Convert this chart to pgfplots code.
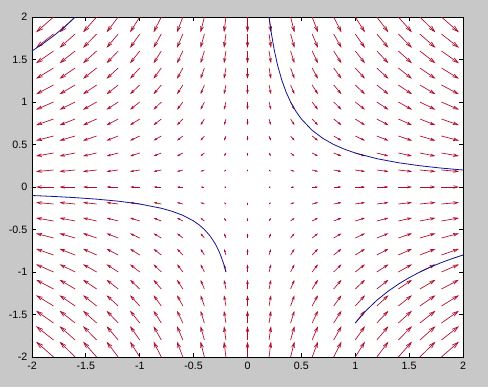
\documentclass[border=0pt]{standalone}
\usepackage{fontspec}
\setmainfont{Liberation Sans}
\usepackage{pgfplots}
\usepackage{pgfplotstable}
\pgfplotsset{compat=1.18}
\usetikzlibrary{arrows.meta}
\definecolor{bggray}{RGB}{200,200,200}
\definecolor{arrred}{RGB}{175,10,40}
\definecolor{curveblue}{RGB}{20,20,140}
\pgfplotstableread[row sep=\\]{
x y u v\\
-2 2 -2 -2\\ -1.8 2 -1.8 -2\\ -1.6 2 -1.6 -2\\ -1.4 2 -1.4 -2\\ -1.2 2 -1.2 -2\\ -1 2 -1 -2\\ -0.8 2 -0.8 -2\\ -0.6 2 -0.6 -2\\ -0.4 2 -0.4 -2\\ -0.2 2 -0.2 -2\\ 0 2 0 -2\\ 0.2 2 0.2 -2\\ 0.4 2 0.4 -2\\ 0.6 2 0.6 -2\\ 0.8 2 0.8 -2\\ 1 2 1 -2\\ 1.2 2 1.2 -2\\ 1.4 2 1.4 -2\\ 1.6 2 1.6 -2\\ 1.8 2 1.8 -2\\ 2 2 2 -2\\
-2 1.8 -2 -1.8\\ -1.8 1.8 -1.8 -1.8\\ -1.6 1.8 -1.6 -1.8\\ -1.4 1.8 -1.4 -1.8\\ -1.2 1.8 -1.2 -1.8\\ -1 1.8 -1 -1.8\\ -0.8 1.8 -0.8 -1.8\\ -0.6 1.8 -0.6 -1.8\\ -0.4 1.8 -0.4 -1.8\\ -0.2 1.8 -0.2 -1.8\\ 0 1.8 0 -1.8\\ 0.2 1.8 0.2 -1.8\\ 0.4 1.8 0.4 -1.8\\ 0.6 1.8 0.6 -1.8\\ 0.8 1.8 0.8 -1.8\\ 1 1.8 1 -1.8\\ 1.2 1.8 1.2 -1.8\\ 1.4 1.8 1.4 -1.8\\ 1.6 1.8 1.6 -1.8\\ 1.8 1.8 1.8 -1.8\\ 2 1.8 2 -1.8\\
-2 1.6 -2 -1.6\\ -1.8 1.6 -1.8 -1.6\\ -1.6 1.6 -1.6 -1.6\\ -1.4 1.6 -1.4 -1.6\\ -1.2 1.6 -1.2 -1.6\\ -1 1.6 -1 -1.6\\ -0.8 1.6 -0.8 -1.6\\ -0.6 1.6 -0.6 -1.6\\ -0.4 1.6 -0.4 -1.6\\ -0.2 1.6 -0.2 -1.6\\ 0 1.6 0 -1.6\\ 0.2 1.6 0.2 -1.6\\ 0.4 1.6 0.4 -1.6\\ 0.6 1.6 0.6 -1.6\\ 0.8 1.6 0.8 -1.6\\ 1 1.6 1 -1.6\\ 1.2 1.6 1.2 -1.6\\ 1.4 1.6 1.4 -1.6\\ 1.6 1.6 1.6 -1.6\\ 1.8 1.6 1.8 -1.6\\ 2 1.6 2 -1.6\\
-2 1.4 -2 -1.4\\ -1.8 1.4 -1.8 -1.4\\ -1.6 1.4 -1.6 -1.4\\ -1.4 1.4 -1.4 -1.4\\ -1.2 1.4 -1.2 -1.4\\ -1 1.4 -1 -1.4\\ -0.8 1.4 -0.8 -1.4\\ -0.6 1.4 -0.6 -1.4\\ -0.4 1.4 -0.4 -1.4\\ -0.2 1.4 -0.2 -1.4\\ 0 1.4 0 -1.4\\ 0.2 1.4 0.2 -1.4\\ 0.4 1.4 0.4 -1.4\\ 0.6 1.4 0.6 -1.4\\ 0.8 1.4 0.8 -1.4\\ 1 1.4 1 -1.4\\ 1.2 1.4 1.2 -1.4\\ 1.4 1.4 1.4 -1.4\\ 1.6 1.4 1.6 -1.4\\ 1.8 1.4 1.8 -1.4\\ 2 1.4 2 -1.4\\
-2 1.2 -2 -1.2\\ -1.8 1.2 -1.8 -1.2\\ -1.6 1.2 -1.6 -1.2\\ -1.4 1.2 -1.4 -1.2\\ -1.2 1.2 -1.2 -1.2\\ -1 1.2 -1 -1.2\\ -0.8 1.2 -0.8 -1.2\\ -0.6 1.2 -0.6 -1.2\\ -0.4 1.2 -0.4 -1.2\\ -0.2 1.2 -0.2 -1.2\\ 0 1.2 0 -1.2\\ 0.2 1.2 0.2 -1.2\\ 0.4 1.2 0.4 -1.2\\ 0.6 1.2 0.6 -1.2\\ 0.8 1.2 0.8 -1.2\\ 1 1.2 1 -1.2\\ 1.2 1.2 1.2 -1.2\\ 1.4 1.2 1.4 -1.2\\ 1.6 1.2 1.6 -1.2\\ 1.8 1.2 1.8 -1.2\\ 2 1.2 2 -1.2\\
-2 1 -2 -1\\ -1.8 1 -1.8 -1\\ -1.6 1 -1.6 -1\\ -1.4 1 -1.4 -1\\ -1.2 1 -1.2 -1\\ -1 1 -1 -1\\ -0.8 1 -0.8 -1\\ -0.6 1 -0.6 -1\\ -0.4 1 -0.4 -1\\ -0.2 1 -0.2 -1\\ 0 1 0 -1\\ 0.2 1 0.2 -1\\ 0.4 1 0.4 -1\\ 0.6 1 0.6 -1\\ 0.8 1 0.8 -1\\ 1 1 1 -1\\ 1.2 1 1.2 -1\\ 1.4 1 1.4 -1\\ 1.6 1 1.6 -1\\ 1.8 1 1.8 -1\\ 2 1 2 -1\\
-2 0.8 -2 -0.8\\ -1.8 0.8 -1.8 -0.8\\ -1.6 0.8 -1.6 -0.8\\ -1.4 0.8 -1.4 -0.8\\ -1.2 0.8 -1.2 -0.8\\ -1 0.8 -1 -0.8\\ -0.8 0.8 -0.8 -0.8\\ -0.6 0.8 -0.6 -0.8\\ -0.4 0.8 -0.4 -0.8\\ -0.2 0.8 -0.2 -0.8\\ 0 0.8 0 -0.8\\ 0.2 0.8 0.2 -0.8\\ 0.4 0.8 0.4 -0.8\\ 0.6 0.8 0.6 -0.8\\ 0.8 0.8 0.8 -0.8\\ 1 0.8 1 -0.8\\ 1.2 0.8 1.2 -0.8\\ 1.4 0.8 1.4 -0.8\\ 1.6 0.8 1.6 -0.8\\ 1.8 0.8 1.8 -0.8\\ 2 0.8 2 -0.8\\
-2 0.6 -2 -0.6\\ -1.8 0.6 -1.8 -0.6\\ -1.6 0.6 -1.6 -0.6\\ -1.4 0.6 -1.4 -0.6\\ -1.2 0.6 -1.2 -0.6\\ -1 0.6 -1 -0.6\\ -0.8 0.6 -0.8 -0.6\\ -0.6 0.6 -0.6 -0.6\\ -0.4 0.6 -0.4 -0.6\\ -0.2 0.6 -0.2 -0.6\\ 0 0.6 0 -0.6\\ 0.2 0.6 0.2 -0.6\\ 0.4 0.6 0.4 -0.6\\ 0.6 0.6 0.6 -0.6\\ 0.8 0.6 0.8 -0.6\\ 1 0.6 1 -0.6\\ 1.2 0.6 1.2 -0.6\\ 1.4 0.6 1.4 -0.6\\ 1.6 0.6 1.6 -0.6\\ 1.8 0.6 1.8 -0.6\\ 2 0.6 2 -0.6\\
-2 0.4 -2 -0.4\\ -1.8 0.4 -1.8 -0.4\\ -1.6 0.4 -1.6 -0.4\\ -1.4 0.4 -1.4 -0.4\\ -1.2 0.4 -1.2 -0.4\\ -1 0.4 -1 -0.4\\ -0.8 0.4 -0.8 -0.4\\ -0.6 0.4 -0.6 -0.4\\ -0.4 0.4 -0.4 -0.4\\ -0.2 0.4 -0.2 -0.4\\ 0 0.4 0 -0.4\\ 0.2 0.4 0.2 -0.4\\ 0.4 0.4 0.4 -0.4\\ 0.6 0.4 0.6 -0.4\\ 0.8 0.4 0.8 -0.4\\ 1 0.4 1 -0.4\\ 1.2 0.4 1.2 -0.4\\ 1.4 0.4 1.4 -0.4\\ 1.6 0.4 1.6 -0.4\\ 1.8 0.4 1.8 -0.4\\ 2 0.4 2 -0.4\\
-2 0.2 -2 -0.2\\ -1.8 0.2 -1.8 -0.2\\ -1.6 0.2 -1.6 -0.2\\ -1.4 0.2 -1.4 -0.2\\ -1.2 0.2 -1.2 -0.2\\ -1 0.2 -1 -0.2\\ -0.8 0.2 -0.8 -0.2\\ -0.6 0.2 -0.6 -0.2\\ -0.4 0.2 -0.4 -0.2\\ -0.2 0.2 -0.2 -0.2\\ 0 0.2 0 -0.2\\ 0.2 0.2 0.2 -0.2\\ 0.4 0.2 0.4 -0.2\\ 0.6 0.2 0.6 -0.2\\ 0.8 0.2 0.8 -0.2\\ 1 0.2 1 -0.2\\ 1.2 0.2 1.2 -0.2\\ 1.4 0.2 1.4 -0.2\\ 1.6 0.2 1.6 -0.2\\ 1.8 0.2 1.8 -0.2\\ 2 0.2 2 -0.2\\
-2 0 -2 0\\ -1.8 0 -1.8 0\\ -1.6 0 -1.6 0\\ -1.4 0 -1.4 0\\ -1.2 0 -1.2 0\\ -1 0 -1 0\\ -0.8 0 -0.8 0\\ -0.6 0 -0.6 0\\ -0.4 0 -0.4 0\\ -0.2 0 -0.2 0\\ 0.2 0 0.2 0\\ 0.4 0 0.4 0\\ 0.6 0 0.6 0\\ 0.8 0 0.8 0\\ 1 0 1 0\\ 1.2 0 1.2 0\\ 1.4 0 1.4 0\\ 1.6 0 1.6 0\\ 1.8 0 1.8 0\\ 2 0 2 0\\
-2 -0.2 -2 0.2\\ -1.8 -0.2 -1.8 0.2\\ -1.6 -0.2 -1.6 0.2\\ -1.4 -0.2 -1.4 0.2\\ -1.2 -0.2 -1.2 0.2\\ -1 -0.2 -1 0.2\\ -0.8 -0.2 -0.8 0.2\\ -0.6 -0.2 -0.6 0.2\\ -0.4 -0.2 -0.4 0.2\\ -0.2 -0.2 -0.2 0.2\\ 0 -0.2 0 0.2\\ 0.2 -0.2 0.2 0.2\\ 0.4 -0.2 0.4 0.2\\ 0.6 -0.2 0.6 0.2\\ 0.8 -0.2 0.8 0.2\\ 1 -0.2 1 0.2\\ 1.2 -0.2 1.2 0.2\\ 1.4 -0.2 1.4 0.2\\ 1.6 -0.2 1.6 0.2\\ 1.8 -0.2 1.8 0.2\\ 2 -0.2 2 0.2\\
-2 -0.4 -2 0.4\\ -1.8 -0.4 -1.8 0.4\\ -1.6 -0.4 -1.6 0.4\\ -1.4 -0.4 -1.4 0.4\\ -1.2 -0.4 -1.2 0.4\\ -1 -0.4 -1 0.4\\ -0.8 -0.4 -0.8 0.4\\ -0.6 -0.4 -0.6 0.4\\ -0.4 -0.4 -0.4 0.4\\ -0.2 -0.4 -0.2 0.4\\ 0 -0.4 0 0.4\\ 0.2 -0.4 0.2 0.4\\ 0.4 -0.4 0.4 0.4\\ 0.6 -0.4 0.6 0.4\\ 0.8 -0.4 0.8 0.4\\ 1 -0.4 1 0.4\\ 1.2 -0.4 1.2 0.4\\ 1.4 -0.4 1.4 0.4\\ 1.6 -0.4 1.6 0.4\\ 1.8 -0.4 1.8 0.4\\ 2 -0.4 2 0.4\\
-2 -0.6 -2 0.6\\ -1.8 -0.6 -1.8 0.6\\ -1.6 -0.6 -1.6 0.6\\ -1.4 -0.6 -1.4 0.6\\ -1.2 -0.6 -1.2 0.6\\ -1 -0.6 -1 0.6\\ -0.8 -0.6 -0.8 0.6\\ -0.6 -0.6 -0.6 0.6\\ -0.4 -0.6 -0.4 0.6\\ -0.2 -0.6 -0.2 0.6\\ 0 -0.6 0 0.6\\ 0.2 -0.6 0.2 0.6\\ 0.4 -0.6 0.4 0.6\\ 0.6 -0.6 0.6 0.6\\ 0.8 -0.6 0.8 0.6\\ 1 -0.6 1 0.6\\ 1.2 -0.6 1.2 0.6\\ 1.4 -0.6 1.4 0.6\\ 1.6 -0.6 1.6 0.6\\ 1.8 -0.6 1.8 0.6\\ 2 -0.6 2 0.6\\
-2 -0.8 -2 0.8\\ -1.8 -0.8 -1.8 0.8\\ -1.6 -0.8 -1.6 0.8\\ -1.4 -0.8 -1.4 0.8\\ -1.2 -0.8 -1.2 0.8\\ -1 -0.8 -1 0.8\\ -0.8 -0.8 -0.8 0.8\\ -0.6 -0.8 -0.6 0.8\\ -0.4 -0.8 -0.4 0.8\\ -0.2 -0.8 -0.2 0.8\\ 0 -0.8 0 0.8\\ 0.2 -0.8 0.2 0.8\\ 0.4 -0.8 0.4 0.8\\ 0.6 -0.8 0.6 0.8\\ 0.8 -0.8 0.8 0.8\\ 1 -0.8 1 0.8\\ 1.2 -0.8 1.2 0.8\\ 1.4 -0.8 1.4 0.8\\ 1.6 -0.8 1.6 0.8\\ 1.8 -0.8 1.8 0.8\\ 2 -0.8 2 0.8\\
-2 -1 -2 1\\ -1.8 -1 -1.8 1\\ -1.6 -1 -1.6 1\\ -1.4 -1 -1.4 1\\ -1.2 -1 -1.2 1\\ -1 -1 -1 1\\ -0.8 -1 -0.8 1\\ -0.6 -1 -0.6 1\\ -0.4 -1 -0.4 1\\ -0.2 -1 -0.2 1\\ 0 -1 0 1\\ 0.2 -1 0.2 1\\ 0.4 -1 0.4 1\\ 0.6 -1 0.6 1\\ 0.8 -1 0.8 1\\ 1 -1 1 1\\ 1.2 -1 1.2 1\\ 1.4 -1 1.4 1\\ 1.6 -1 1.6 1\\ 1.8 -1 1.8 1\\ 2 -1 2 1\\
-2 -1.2 -2 1.2\\ -1.8 -1.2 -1.8 1.2\\ -1.6 -1.2 -1.6 1.2\\ -1.4 -1.2 -1.4 1.2\\ -1.2 -1.2 -1.2 1.2\\ -1 -1.2 -1 1.2\\ -0.8 -1.2 -0.8 1.2\\ -0.6 -1.2 -0.6 1.2\\ -0.4 -1.2 -0.4 1.2\\ -0.2 -1.2 -0.2 1.2\\ 0 -1.2 0 1.2\\ 0.2 -1.2 0.2 1.2\\ 0.4 -1.2 0.4 1.2\\ 0.6 -1.2 0.6 1.2\\ 0.8 -1.2 0.8 1.2\\ 1 -1.2 1 1.2\\ 1.2 -1.2 1.2 1.2\\ 1.4 -1.2 1.4 1.2\\ 1.6 -1.2 1.6 1.2\\ 1.8 -1.2 1.8 1.2\\ 2 -1.2 2 1.2\\
-2 -1.4 -2 1.4\\ -1.8 -1.4 -1.8 1.4\\ -1.6 -1.4 -1.6 1.4\\ -1.4 -1.4 -1.4 1.4\\ -1.2 -1.4 -1.2 1.4\\ -1 -1.4 -1 1.4\\ -0.8 -1.4 -0.8 1.4\\ -0.6 -1.4 -0.6 1.4\\ -0.4 -1.4 -0.4 1.4\\ -0.2 -1.4 -0.2 1.4\\ 0 -1.4 0 1.4\\ 0.2 -1.4 0.2 1.4\\ 0.4 -1.4 0.4 1.4\\ 0.6 -1.4 0.6 1.4\\ 0.8 -1.4 0.8 1.4\\ 1 -1.4 1 1.4\\ 1.2 -1.4 1.2 1.4\\ 1.4 -1.4 1.4 1.4\\ 1.6 -1.4 1.6 1.4\\ 1.8 -1.4 1.8 1.4\\ 2 -1.4 2 1.4\\
-2 -1.6 -2 1.6\\ -1.8 -1.6 -1.8 1.6\\ -1.6 -1.6 -1.6 1.6\\ -1.4 -1.6 -1.4 1.6\\ -1.2 -1.6 -1.2 1.6\\ -1 -1.6 -1 1.6\\ -0.8 -1.6 -0.8 1.6\\ -0.6 -1.6 -0.6 1.6\\ -0.4 -1.6 -0.4 1.6\\ -0.2 -1.6 -0.2 1.6\\ 0 -1.6 0 1.6\\ 0.2 -1.6 0.2 1.6\\ 0.4 -1.6 0.4 1.6\\ 0.6 -1.6 0.6 1.6\\ 0.8 -1.6 0.8 1.6\\ 1 -1.6 1 1.6\\ 1.2 -1.6 1.2 1.6\\ 1.4 -1.6 1.4 1.6\\ 1.6 -1.6 1.6 1.6\\ 1.8 -1.6 1.8 1.6\\ 2 -1.6 2 1.6\\
-2 -1.8 -2 1.8\\ -1.8 -1.8 -1.8 1.8\\ -1.6 -1.8 -1.6 1.8\\ -1.4 -1.8 -1.4 1.8\\ -1.2 -1.8 -1.2 1.8\\ -1 -1.8 -1 1.8\\ -0.8 -1.8 -0.8 1.8\\ -0.6 -1.8 -0.6 1.8\\ -0.4 -1.8 -0.4 1.8\\ -0.2 -1.8 -0.2 1.8\\ 0 -1.8 0 1.8\\ 0.2 -1.8 0.2 1.8\\ 0.4 -1.8 0.4 1.8\\ 0.6 -1.8 0.6 1.8\\ 0.8 -1.8 0.8 1.8\\ 1 -1.8 1 1.8\\ 1.2 -1.8 1.2 1.8\\ 1.4 -1.8 1.4 1.8\\ 1.6 -1.8 1.6 1.8\\ 1.8 -1.8 1.8 1.8\\ 2 -1.8 2 1.8\\
-2 -2 -2 2\\ -1.8 -2 -1.8 2\\ -1.6 -2 -1.6 2\\ -1.4 -2 -1.4 2\\ -1.2 -2 -1.2 2\\ -1 -2 -1 2\\ -0.8 -2 -0.8 2\\ -0.6 -2 -0.6 2\\ -0.4 -2 -0.4 2\\ -0.2 -2 -0.2 2\\ 0 -2 0 2\\ 0.2 -2 0.2 2\\ 0.4 -2 0.4 2\\ 0.6 -2 0.6 2\\ 0.8 -2 0.8 2\\ 1 -2 1 2\\ 1.2 -2 1.2 2\\ 1.4 -2 1.4 2\\ 1.6 -2 1.6 2\\ 1.8 -2 1.8 2\\ 2 -2 2 2\\
}\field
\begin{document}
\begin{tikzpicture}
\fill[bggray] (0,0) rectangle (366pt,290.25pt);
\begin{axis}[
  at={(24pt,22.5pt)}, anchor=south west,
  scale only axis, width=323.25pt, height=255pt,
  xmin=-2, xmax=2, ymin=-2, ymax=2,
  xtick={-2,-1.5,-1,-0.5,0,0.5,1,1.5,2},
  ytick={-2,-1.5,-1,-0.5,0,0.5,1,1.5,2},
  xticklabels={-2,-1.5,-1,-0.5,0,0.5,1,1.5,2},
  yticklabels={-2,-1.5,-1,-0.5,0,0.5,1,1.5,2},
  tick align=inside, major tick length=3pt,
  tick style={black, line width=0.6pt},
  axis line style={line width=0.6pt},
  axis background/.style={fill=white},
  tick label style={font=\fontsize{8}{9.6}\selectfont},
  /pgf/number format/assume math mode=true,
  point meta min=0, point meta max=2.8284,
]
\addplot[arrred, line width=0.5pt,
  quiver={u=\thisrow{u}, v=\thisrow{v}, scale arrows=0.09,
    every arrow/.append style={-{Straight Barb[length=0.2pt+4.8pt*\pgfplotspointmetatransformed/1000, width=0.2pt+2.8pt*\pgfplotspointmetatransformed/1000]}}},
  point meta={sqrt((\thisrow{u})^2+(\thisrow{v})^2)}]
  table[x=x, y=y] {\field};
\addplot[curveblue, line width=0.6pt, no marks] coordinates {
(0.2,2) (0.22,1.8182) (0.25,1.6) (0.28,1.4286) (0.32,1.25) (0.36,1.1111) (0.4,1) (0.45,0.8889) (0.5,0.8) (0.6,0.6667) (0.7,0.5714) (0.8,0.5) (0.9,0.4444) (1,0.4) (1.2,0.3333) (1.4,0.2857) (1.6,0.25) (1.8,0.2222) (2,0.2)};
\addplot[curveblue, line width=0.6pt, no marks] coordinates {
(-2,-0.1) (-1.8,-0.1111) (-1.6,-0.125) (-1.4,-0.1429) (-1.2,-0.1667) (-1,-0.2) (-0.8,-0.25) (-0.7,-0.2857) (-0.6,-0.3333) (-0.5,-0.4) (-0.45,-0.4444) (-0.4,-0.5) (-0.35,-0.5714) (-0.3,-0.6667) (-0.27,-0.7407) (-0.25,-0.8) (-0.22,-0.9091) (-0.2,-1)};
\addplot[curveblue, line width=0.6pt, no marks] coordinates {
(-2,1.6) (-1.9,1.6842) (-1.8,1.7778) (-1.7,1.8824) (-1.6,2)};
\addplot[curveblue, line width=0.6pt, no marks] coordinates {
(1,-1.6) (1.1,-1.4545) (1.2,-1.3333) (1.3,-1.2308) (1.4,-1.1429) (1.5,-1.0667) (1.6,-1) (1.7,-0.9412) (1.8,-0.8889) (1.9,-0.8421) (2,-0.8)};
\end{axis}
\end{tikzpicture}
\end{document}
